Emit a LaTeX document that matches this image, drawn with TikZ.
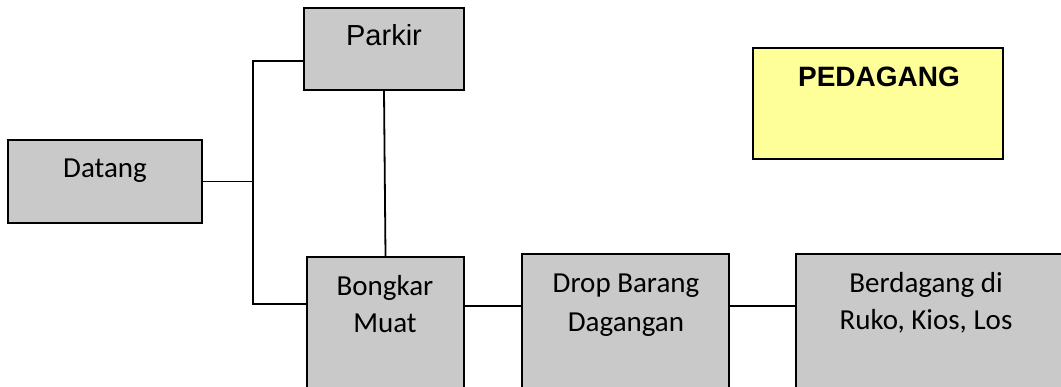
\documentclass[tikz,border=0pt]{standalone}
\usepackage{fontspec}
\setmainfont{Carlito}
\newfontfamily\arialfont{Liberation Sans}
\definecolor{abu}{HTML}{C9C9C9}
\definecolor{kuning}{HTML}{FFFF99}
\tikzset{
	kotak/.style={draw=black, line width=1.8pt, fill=abu, inner sep=0pt},
	garis/.style={draw=black, line width=1.8pt},
	tulisan/.style={anchor=base, font=\fontsize{29}{35}\selectfont},
}
\begin{document}
	\begin{tikzpicture}[x=1pt, y=-1pt]
		\useasboundingbox (0,0) rectangle (1061,387);
		\clip (0,0) rectangle (1061,387);
		% kotak-kotak alur
		\node[kotak, minimum width=194pt, minimum height=83pt] (datang) at (105,181.5) {};
		\node[kotak, minimum width=160pt, minimum height=82pt] (parkir) at (384,49) {};
		\node[kotak, minimum width=157pt, minimum height=146pt] (bongkar) at (385.5,330) {};
		\node[kotak, minimum width=207pt, minimum height=146pt] (drop) at (625.5,327) {};
		\node[kotak, minimum width=279pt, minimum height=146pt] (dagang) at (935.5,327) {};
		\node[kotak, fill=kuning, minimum width=250pt, minimum height=111pt] (pedagang) at (878,103.5) {};
		% tulisan
		\node[tulisan] (tDatang) at (105,178) {Datang};
		\node[tulisan, font=\arialfont\fontsize{29}{35}\selectfont] (tParkir) at (384,46) {Parkir};
		\node[tulisan, font=\arialfont\bfseries\fontsize{28}{34}\selectfont] (tPedagang) at (879,87) {PEDAGANG};
		\node[tulisan] (tBongkar) at (385,296) {Bongkar};
		\node[tulisan] (tMuat) at (385,333) {Muat};
		\node[tulisan] (tDrop) at (626,293) {Drop Barang};
		\node[tulisan] (tDagangan) at (626,332) {Dagangan};
		\node[tulisan] (tBerdagang) at (926,293) {Berdagang di};
		\node[tulisan] (tRuko) at (926,330) {Ruko, Kios, Los};
		% garis penghubung
		\coordinate (cabang) at (253,181.5);
		\draw[garis] (datang.east) -- (cabang);
		\draw[garis] ([yshift=-12pt]parkir.west) -| (cabang) |- ([yshift=26pt]bongkar.west);
		\draw[garis] (parkir.south) -- (bongkar.north);
		\draw[garis] ([yshift=24pt]bongkar.east) -- ([yshift=21pt]drop.west);
		\draw[garis] ([yshift=21pt]drop.east) -- ([yshift=21pt]dagang.west);
	\end{tikzpicture}
\end{document}
